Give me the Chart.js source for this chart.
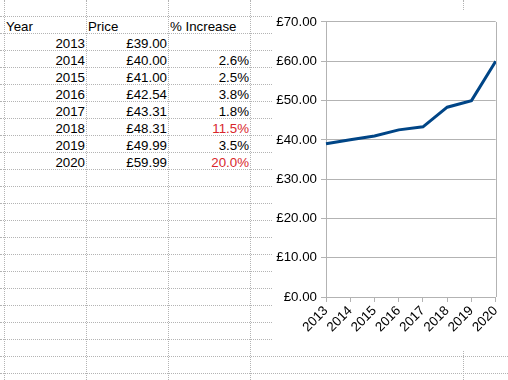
<!DOCTYPE html>
<html>
<head>
<meta charset="utf-8">
<script src="https://cdn.jsdelivr.net/npm/chart.js@4"></script>
<style>
  body { margin: 0; width: 508px; height: 380px; overflow: hidden; background: #fff;
         font-family: "Liberation Sans", Arial, sans-serif; font-size: 13.3px; color: #000; }
  .hl { position: absolute; left: 0; width: 508px; height: 0; border-top: 1px dotted #b4b4b4; }
  .vl { position: absolute; top: 0; width: 0; height: 380px; border-left: 1px dotted #b4b4b4; }
  .cell { position: absolute; height: 17px; line-height: 17px; white-space: nowrap; padding-top: 2px; }
  #chartBox { position: absolute; left: 273px; top: 10px; width: 235px; height: 340px; background: #fff; }
</style>
</head>
<body>
<div id="sheet"></div>
<div id="chartBox"><canvas id="priceChart"></canvas></div>
<script>
// data
const years = ['2013', '2014', '2015', '2016', '2017', '2018', '2019', '2020'];
const prices = [39.00, 40.00, 41.00, 42.54, 43.31, 48.31, 49.99, 59.99];
const increases = [null, 2.6, 2.5, 3.8, 1.8, 11.5, 3.5, 20.0];
const headers = ['Year', 'Price', '% Increase'];

// spreadsheet grid
const sheet = document.getElementById('sheet');
const colEdges = [4, 86, 168, 250, 463];
for (let y = 16; y < 380; y += 17) {
    const d = document.createElement('div');
    d.className = 'hl';
    d.style.top = y + 'px';
    sheet.appendChild(d);
}
colEdges.forEach(x => {
    const d = document.createElement('div');
    d.className = 'vl';
    d.style.left = x + 'px';
    sheet.appendChild(d);
});

function addCell(text, col, row, align, color) {
    const d = document.createElement('div');
    d.className = 'cell';
    const left = colEdges[col] + 2, right = colEdges[col + 1] - 1;
    d.style.left = left + 'px';
    d.style.width = (right - left) + 'px';
    d.style.top = (16 + row * 17) + 'px';
    d.style.textAlign = align;
    if (color) d.style.color = color;
    d.textContent = text;
    sheet.appendChild(d);
}

headers.forEach((h, i) => addCell(h, i, 0, 'left'));
years.forEach((yr, i) => {
    addCell(yr, 0, i + 1, 'right');
    addCell('£' + prices[i].toFixed(2), 1, i + 1, 'right');
    if (increases[i] !== null) {
        addCell(increases[i].toFixed(1) + '%', 2, i + 1, 'right', increases[i] > 10 ? '#d8262b' : null);
    }
});

// frame on the right side of the plot area
const frame = {
    id: 'frame',
    afterDatasetsDraw(chart) {
        const a = chart.chartArea, ctx = chart.ctx;
        ctx.save();
        ctx.strokeStyle = '#b3b3b3';
        ctx.lineWidth = 1;
        ctx.beginPath();
        ctx.moveTo(Math.round(a.right) + 0.5, a.top);
        ctx.lineTo(Math.round(a.right) + 0.5, a.bottom);
        ctx.stroke();
        ctx.restore();
    }
};

const font = { family: '"Liberation Sans", Arial, sans-serif', size: 13.3 };

new Chart(document.getElementById('priceChart'), {
    type: 'line',
    data: {
        labels: years,
        datasets: [{
            label: 'Price',
            data: prices,
            borderColor: '#004586',
            borderWidth: 3,
            pointRadius: 0,
            tension: 0,
            fill: false
        }]
    },
    options: {
        responsive: true,
        maintainAspectRatio: false,
        animation: false,
        layout: { padding: { top: 7, right: 11, left: 0, bottom: 0 } },
        plugins: { legend: { display: false }, tooltip: { enabled: false } },
        scales: {
            x: {
                offset: false,
                grid: { drawOnChartArea: false, color: '#b3b3b3', tickLength: 5 },
                border: { color: '#b3b3b3' },
                ticks: { autoSkip: false, minRotation: 45, maxRotation: 45, color: '#000', font: font, padding: 1 },
                afterFit: s => { s.height = 53; }
            },
            y: {
                min: 0,
                max: 70,
                grid: { color: '#b3b3b3', tickLength: 5 },
                border: { color: '#b3b3b3' },
                ticks: {
                    stepSize: 10,
                    color: '#000',
                    font: font,
                    padding: 4,
                    callback: v => '£' + v.toFixed(2)
                },
                afterFit: s => { s.width = 53; }
            }
        }
    },
    plugins: [frame]
});
</script>
</body>
</html>
